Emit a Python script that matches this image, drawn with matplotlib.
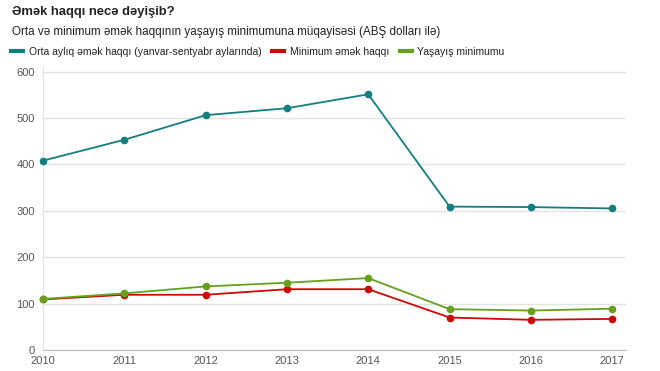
import matplotlib
matplotlib.use("Agg")
import matplotlib.pyplot as plt
from matplotlib.lines import Line2D

years = [2010, 2011, 2012, 2013, 2014, 2015, 2016, 2017]
avg_wage = [408, 453, 506, 521, 551, 309, 308, 305]
min_wage = [109, 119, 119, 131, 131, 70, 65, 67]
subsistence = [110, 122, 137, 145, 155, 88, 85, 89]
series_names = ["Orta aylıq əmək haqqı (yanvar-sentyabr aylarında)", "Minimum əmək haqqı", "Yaşayış minimumu"]
colors = ["#137f80", "#cc0a0a", "#66a01c"]
yticks = [0, 100, 200, 300, 400, 500, 600]

plt.rcParams['font.family'] = ['Liberation Sans', 'DejaVu Sans']

fig = plt.figure(figsize=(6.6, 3.71), dpi=100)
ax = fig.add_axes([43/660, 1-350/371, (626-43)/660, (350-66)/371])

for vals, c, name in zip([avg_wage, min_wage, subsistence], colors, series_names):
    ax.plot(years, vals, color=c, lw=1.3, marker='o', ms=4.5, label=name, clip_on=False, zorder=3)

ax.set_xlim(2010, 2017.17)
ax.set_ylim(0, 612)
ax.set_yticks(yticks)
ax.set_xticks(years)
ax.set_xticklabels([str(y) for y in years])
ax.grid(axis='y', color='#e3e3e3', lw=1)
ax.set_axisbelow(True)
for s in ['top', 'right']:
    ax.spines[s].set_visible(False)
ax.spines['left'].set_color('#e3e3e3')
ax.spines['bottom'].set_color('#bbbbbb')
ax.tick_params(axis='both', length=0, labelsize=8, colors='#555555')
ax.tick_params(axis='y', pad=6)
ax.tick_params(axis='x', pad=4)

fig.text(12/660, 1-12/371, "Əmək haqqı necə dəyişib?", fontsize=9.4, fontweight='bold',
         color='#222222', va='center', ha='left')
fig.text(12/660, 1-32/371, "Orta və minimum əmək haqqının yaşayış minimumuna müqayisəsi (ABŞ dolları ilə)",
         fontsize=8.35, color='#222222', va='center', ha='left')

handles = [Line2D([], [], color=c, lw=3) for c in colors]
fig.legend(handles, series_names, loc='center left', bbox_to_anchor=(2/660, 1-52/371),
           ncol=3, frameon=False, fontsize=7.5, handlelength=1.15, handletextpad=0.55,
           columnspacing=1.0, labelcolor='#222222')

fig.savefig("out.png", dpi=100)
